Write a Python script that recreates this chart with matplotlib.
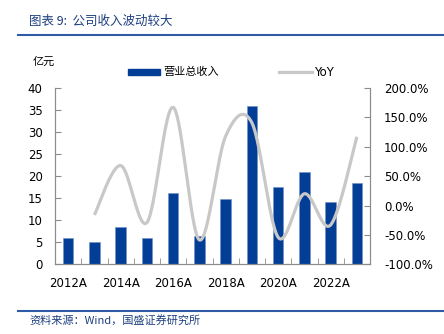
import matplotlib.pyplot as plt
import matplotlib.lines as mlines
import matplotlib.patches as mpatches
import numpy as np

plt.rcParams['font.family'] = ['DejaVu Sans', 'Noto Sans CJK SC']

years = ['2012A', '2013A', '2014A', '2015A', '2016A', '2017A',
         '2018A', '2019A', '2020A', '2021A', '2022A', '2023A']
revenue = [5.9, 5.0, 8.4, 6.0, 16.1, 6.4, 14.8, 35.9, 17.5, 20.9, 14.2, 18.5]
# growth rate in %, first year has no prior value
yoy = [None, -16, 68, -29, 167, -58.5, 118, 141, -54, 20, -33, 117]

bar_color = '#023e95'
line_color = '#c8c8c8'
text_blue = '#1d3f80'
cjk = ['Noto Sans CJK SC', 'DejaVu Sans']


def smooth(xs, ys, n=40):
    # uniform Catmull-Rom through the points (same look as a smoothed office chart line)
    xs = np.asarray(xs, float)
    ys = np.asarray(ys, float)
    px = np.concatenate([[xs[0]], xs, [xs[-1]]])
    py = np.concatenate([[ys[0]], ys, [ys[-1]]])
    ox, oy = [], []
    for i in range(1, len(px) - 2):
        t = np.linspace(0, 1, n)
        h00 = 2*t**3 - 3*t**2 + 1
        h10 = t**3 - 2*t**2 + t
        h01 = -2*t**3 + 3*t**2
        h11 = t**3 - t**2
        mx0 = (px[i+1] - px[i-1]) / 2
        mx1 = (px[i+2] - px[i]) / 2
        my0 = (py[i+1] - py[i-1]) / 2
        my1 = (py[i+2] - py[i]) / 2
        ox.append(h00*px[i] + h10*mx0 + h01*px[i+1] + h11*mx1)
        oy.append(h00*py[i] + h10*my0 + h01*py[i+1] + h11*my1)
    return np.concatenate(ox), np.concatenate(oy)


fig = plt.figure(figsize=(4.44, 3.34), dpi=100)
ax = fig.add_axes([55/444, 1 - 264.3/334, 315/444, 176.3/334])
ax2 = ax.twinx()
ax.set_zorder(1)
ax2.set_zorder(2)
ax2.patch.set_visible(False)

x = np.arange(len(years))
ax.bar(x, revenue, width=0.4, color=bar_color, edgecolor='#6f8fc8', linewidth=0.4)

xi = [i for i, v in enumerate(yoy) if v is not None]
yi = [v for v in yoy if v is not None]
sx, sy = smooth(xi, yi)
ax2.plot(sx, sy, color=line_color, lw=2.3, solid_capstyle='butt')

ax.set_xlim(-0.5, len(years) - 0.5)
ax.set_ylim(0, 40)
ax.set_yticks(range(0, 41, 5))
ax2.set_ylim(-100, 200)
ax2.set_yticks(range(-100, 201, 50))
ax2.set_yticklabels([f'{v:.1f}%' for v in range(-100, 201, 50)])

ax.set_xticks(x[::2])
ax.set_xticklabels(years[::2])
ax.set_xticks(np.arange(-0.5, len(years), 1), minor=True)

for a in (ax, ax2):
    a.spines['top'].set_visible(False)
    for s in ('left', 'right', 'bottom'):
        a.spines[s].set_color('#8c8c8c')
        a.spines[s].set_linewidth(0.8)
ax.tick_params(axis='x', which='major', length=0, pad=9, labelsize=8.5)
ax.tick_params(axis='x', which='minor', direction='in', length=4, color='#8c8c8c')
ax.tick_params(axis='y', direction='in', length=4, color='#8c8c8c', pad=9, labelsize=8.5)
ax2.tick_params(axis='y', direction='in', length=4, color='#8c8c8c', pad=10, labelsize=8.5)

fig.text(33/444, 1 - 62/334, '亿元', family=cjk, fontsize=8, va='center')

# legend drawn by hand above the plot
h_bar = mpatches.Patch(color=bar_color)
h_line = mlines.Line2D([], [], color=line_color, lw=2.3)
fig.add_artist(mpatches.Rectangle((128/444, 1 - 75/334), 32/444, 6/334,
                                  transform=fig.transFigure, color=bar_color))
fig.text(163/444, 1 - 72/334, '营业总收入', family=cjk, fontsize=8, va='center')
fig.add_artist(mlines.Line2D([279/444, 312/444], [1 - 72/334, 1 - 72/334],
                             transform=fig.transFigure, color=line_color, lw=2.3))
fig.text(314/444, 1 - 72/334, 'YoY', fontsize=8.5, va='center')

# header and footer
fig.text(29/444, 1 - 21/334, '图表 9:  公司收入波动较大', family=cjk, fontsize=9,
         color=text_blue, va='center', style='italic')
fig.add_artist(mlines.Line2D([18/444, 1], [1 - 34.5/334, 1 - 34.5/334],
                             transform=fig.transFigure, color='#2f5aa6', lw=1.5))
fig.add_artist(mlines.Line2D([18/444, 1], [1 - 310.7/334, 1 - 310.7/334],
                             transform=fig.transFigure, color='#2f5aa6', lw=1.5))
fig.text(29/444, 1 - 320/334, '资料来源：Wind，国盛证券研究所', family=cjk, fontsize=8,
         color=text_blue, va='center', style='italic')

fig.savefig('out.png', dpi=100)
